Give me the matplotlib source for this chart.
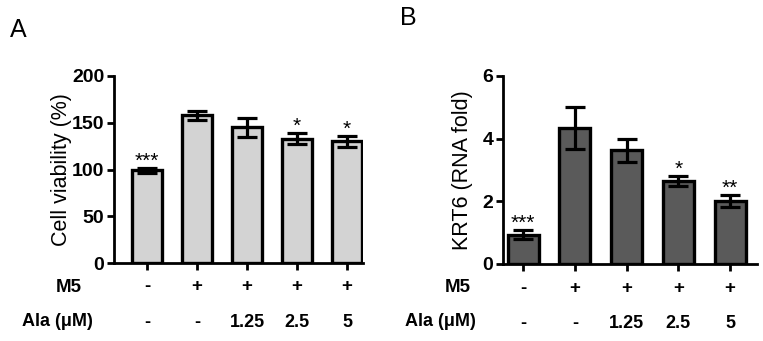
import matplotlib
matplotlib.use("AGG")
import numpy as np
import matplotlib.pyplot as plt

plt.rcParams['font.family'] = ['Liberation Sans', 'DejaVu Sans']

### data ###
m5_row = ['-', '+', '+', '+', '+']
ala_row = ['-', '-', '1.25', '2.5', '5']

viability = [99, 158, 145, 133, 130]
viability_err = [2.5, 5, 10.5, 6, 5.5]
viability_sig = ['***', '', '', '*', '*']

krt6 = [0.93, 4.35, 3.63, 2.66, 2.02]
krt6_err = [0.14, 0.67, 0.37, 0.16, 0.19]
krt6_sig = ['***', '', '', '*', '**']

W, H = 763, 341
fig = plt.figure(figsize=(W / 100, H / 100), dpi=100)

def px_box(x0, x1, y0, y1):
    return [x0 / W, 1 - y1 / H, (x1 - x0) / W, (y1 - y0) / H]

axA = fig.add_axes(px_box(114, 363, 76, 263))
axB = fig.add_axes(px_box(503, 757, 76, 264))

x = np.arange(len(m5_row))

def draw_panel(ax, vals, errs, sigs, color, ylim, yticks, ylabel, xlim, label_x):
    ax.bar(x, vals, width=0.6, color=color, edgecolor='black', linewidth=2.4, zorder=2)
    ax.errorbar(x, vals, yerr=errs, fmt='none', ecolor='black', elinewidth=2.3,
                capsize=7, capthick=2.3, zorder=3)
    for xi, v, e, s in zip(x, vals, errs, sigs):
        if s:
            ax.annotate(s, (xi, v + e), xytext=(0, -2), textcoords='offset points',
                        ha='center', va='bottom', fontsize=15)
    ax.set_ylim(*ylim)
    ax.set_xlim(*xlim)
    ax.set_yticks(yticks)
    ax.set_xticks(x)
    ax.set_xticklabels([])
    ax.spines['top'].set_visible(False)
    ax.spines['right'].set_visible(False)
    ax.spines['left'].set_linewidth(2)
    ax.spines['bottom'].set_linewidth(2)
    ax.tick_params(axis='both', width=2, length=5, labelsize=14, pad=2)
    for lab in ax.get_yticklabels():
        lab.set_fontweight('bold')
    ax.set_ylabel(ylabel, fontsize=15.5)
    # label x is the right edge of the rotated label
    ax.yaxis.set_label_coords(label_x, 0.5)
    for xi, m, a in zip(x, m5_row, ala_row):
        ax.text(xi, -0.128, m, transform=ax.get_xaxis_transform(), ha='center',
                va='center', fontsize=13.5, fontweight='bold')
        ax.text(xi, -0.316, a, transform=ax.get_xaxis_transform(), ha='center',
                va='center', fontsize=13, fontweight='bold')

draw_panel(axA, viability, viability_err, viability_sig, '#d3d3d3',
           (0, 200), [0, 50, 100, 150, 200], 'Cell viability (%)', (-0.66, 4.32), -0.17)
draw_panel(axB, krt6, krt6_err, krt6_sig, '#5a5a5a',
           (0, 6), [0, 2, 4, 6], 'KRT6 (RNA fold)', (-0.39, 4.52), -0.12)

# row labels
for xr, xa in [(82, 22), (471, 405)]:
    fig.text(xr / W, 1 - 287 / H, 'M5', ha='right', va='center', fontsize=13.5, fontweight='bold')
    fig.text(xa / W, 1 - 322 / H, 'Ala (\u03bcM)', ha='left', va='center', fontsize=13, fontweight='bold')

fig.text(10 / W, 1 - 30 / H, 'A', ha='left', va='center', fontsize=18)
fig.text(400 / W, 1 - 18 / H, 'B', ha='left', va='center', fontsize=18)

fig.savefig("out.png", dpi=100)
